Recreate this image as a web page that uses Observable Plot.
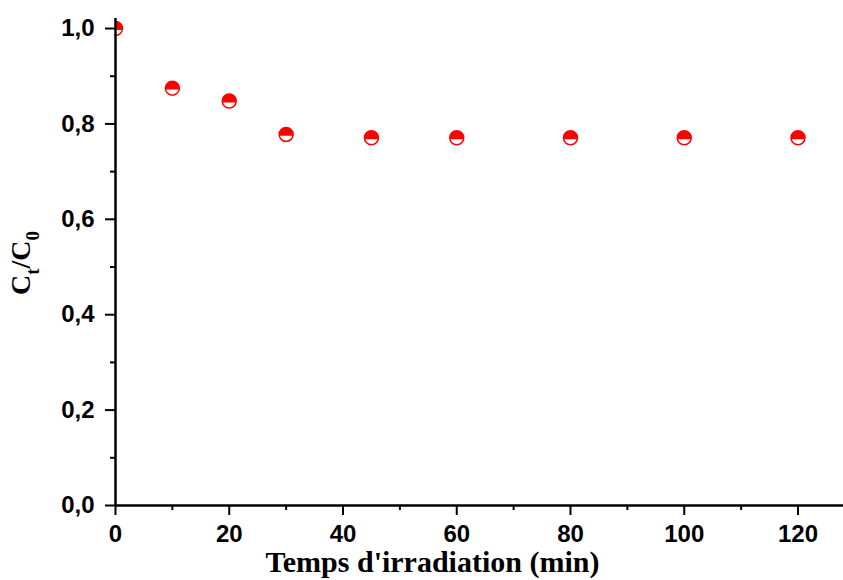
<!DOCTYPE html>
<html><head><meta charset="utf-8">
<script src="https://cdn.jsdelivr.net/npm/d3@7"></script>
<script src="https://cdn.jsdelivr.net/npm/@observablehq/plot@0.6"></script>
<style>body{margin:0;background:#fff}</style>
</head><body><div id="chart"></div>
<script>
const time = [0, 10, 20, 30, 45, 60, 80, 100, 120];
const ratio = [1.0, 0.875, 0.848, 0.778, 0.771, 0.771, 0.771, 0.771, 0.771];
const xMajor = [0, 20, 40, 60, 80, 100, 120];
const xMinor = [10, 30, 50, 70, 90, 110];
const yMajor = [0, 0.2, 0.4, 0.6, 0.8, 1.0];
const yMinor = [0.1, 0.3, 0.5, 0.7, 0.9];
const xTitle = "Temps d'irradiation (min)";

const data = time.map((t, i) => ({t, c: ratio[i]}));
const halfTop = {draw(ctx, size) {
  const r = Math.sqrt(size / Math.PI), a = 0.2;
  ctx.moveTo(r * Math.cos(a), r * Math.sin(a));
  ctx.arc(0, 0, r, a, Math.PI - a, true);
  ctx.closePath();
}};
const fmt = d => d.toFixed(1).replace(".", ",");
const sans = "'Liberation Sans', Arial, sans-serif";
const serif = "'Liberation Serif', 'Times New Roman', serif";
const plot = Plot.plot({
  width: 843, height: 580,
  marginLeft: 115, marginRight: 0, marginTop: 18, marginBottom: 75,
  x: {domain: [0, 128]},
  y: {domain: [0, 1.021]},
  style: {fontFamily: sans, fontWeight: "bold", background: "#fff", color: "#000"},
  marks: [
    Plot.dot(data, {x: "t", y: "c", r: 7, fill: "white", stroke: "red", strokeWidth: 1.5, clip: true}),
    Plot.dot(data, {x: "t", y: "c", r: 7, symbol: halfTop, fill: "red", stroke: "none", clip: true}),
    Plot.axisX(xMajor, {tickSize: 10, tickFormat: () => "", label: null, strokeWidth: 2}),
    Plot.axisX(xMinor, {tickSize: 5, tickFormat: () => "", label: null, strokeWidth: 2}),
    Plot.axisY(yMajor, {tickSize: 10, tickFormat: () => "", label: null, strokeWidth: 2}),
    Plot.axisY(yMinor, {tickSize: 5, tickFormat: () => "", label: null, strokeWidth: 2}),
    Plot.text(xMajor, {x: d => d, frameAnchor: "bottom", dy: 29, lineAnchor: "middle", text: d => String(d), fontSize: 24, fontFamily: sans, fontWeight: "bold", letterSpacing: 1}),
    Plot.text(yMajor, {y: d => d, frameAnchor: "left", dx: -21, textAnchor: "end", text: fmt, fontSize: 24, fontFamily: sans, fontWeight: "bold", letterSpacing: 1}),
    Plot.ruleX([0], {strokeWidth: 2.5}),
    Plot.ruleY([0], {strokeWidth: 2.5}),
    Plot.text([xTitle], {frameAnchor: "bottom", dx: -47, dy: 57, lineAnchor: "middle", fontFamily: serif, fontSize: 30, fontWeight: "bold"})
  ]
});
const svg = d3.select(plot);
const yl = svg.append("text")
  .attr("transform", "translate(30,263) rotate(-90)")
  .attr("text-anchor", "middle")
  .attr("font-family", serif)
  .attr("font-weight", "bold")
  .attr("font-size", 28)
  .attr("fill", "#000");
yl.append("tspan").text("C");
yl.append("tspan").attr("dy", 9).attr("font-size", 19).text("t");
yl.append("tspan").attr("dy", -9).text("/C");
yl.append("tspan").attr("dy", 9).attr("font-size", 19).text("0");
document.getElementById("chart").append(plot);
</script>
</body></html>
